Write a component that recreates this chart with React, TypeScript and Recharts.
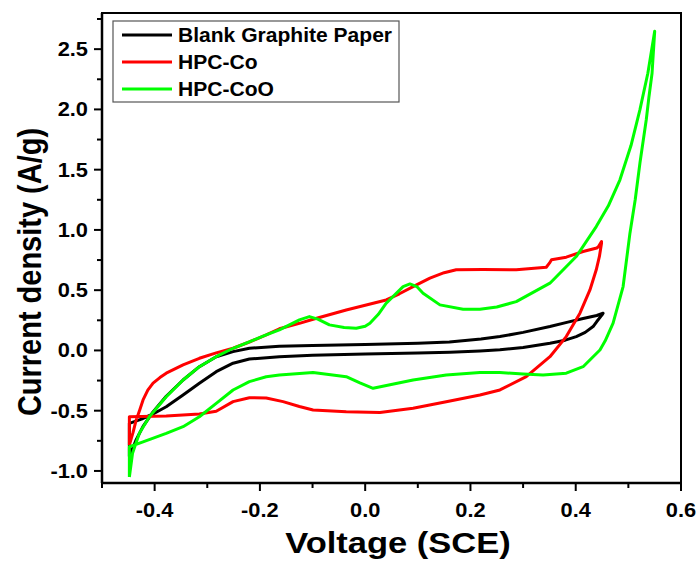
import { LineChart, Line, XAxis, YAxis, ReferenceArea } from 'recharts';

const FONT = '"Liberation Sans", Arial, sans-serif';

// Blank Graphite Paper loop (anodic branch then cathodic branch)
const blankVoltage = [-0.448, -0.435, -0.422, -0.403, -0.378, -0.346, -0.315, -0.283, -0.251, -0.22, -0.163, -0.1, 0.0, 0.1, 0.16, 0.22, 0.256, 0.3, 0.351, 0.385, 0.414, 0.44, 0.452,
  0.45, 0.44, 0.433, 0.418, 0.401, 0.38, 0.351, 0.3, 0.256, 0.218, 0.161, 0.1, 0.0, -0.1, -0.163, -0.22, -0.251, -0.283, -0.315, -0.346, -0.378, -0.403, -0.425, -0.448, -0.448];
const blankCurrent = [-0.88, -0.74, -0.63, -0.51, -0.38, -0.245, -0.135, -0.052, -0.01, 0.018, 0.035, 0.04, 0.05, 0.06, 0.07, 0.095, 0.115, 0.15, 0.198, 0.235, 0.265, 0.29, 0.309,
  0.295, 0.24, 0.198, 0.15, 0.115, 0.085, 0.06, 0.025, 0.005, -0.004, -0.015, -0.022, -0.03, -0.04, -0.052, -0.071, -0.106, -0.176, -0.272, -0.37, -0.467, -0.527, -0.57, -0.605, -0.88];

// HPC-Co loop
const coVoltage = [-0.448, -0.441, -0.435, -0.428, -0.422, -0.413, -0.403, -0.39, -0.378, -0.346, -0.315, -0.283, -0.251, -0.22, -0.188, -0.163, -0.125, -0.099, -0.036, 0.04, 0.065, 0.091, 0.123, 0.15, 0.173, 0.224, 0.287, 0.344, 0.35, 0.354, 0.382, 0.414, 0.44, 0.443, 0.449,
  0.449, 0.445, 0.439, 0.427, 0.408, 0.382, 0.351, 0.306, 0.256, 0.218, 0.154, 0.091, 0.028, -0.036, -0.099, -0.125, -0.156, -0.188, -0.22, -0.251, -0.283, -0.315, -0.378, -0.448, -0.448];
const coCurrent = [-0.785, -0.68, -0.577, -0.49, -0.411, -0.33, -0.272, -0.225, -0.189, -0.12, -0.065, -0.02, 0.018, 0.07, 0.129, 0.18, 0.225, 0.259, 0.336, 0.419, 0.47, 0.53, 0.6, 0.645, 0.669, 0.672, 0.67, 0.69, 0.724, 0.752, 0.774, 0.821, 0.85, 0.86, 0.904,
  0.89, 0.78, 0.669, 0.502, 0.309, 0.115, -0.052, -0.218, -0.328, -0.37, -0.425, -0.48, -0.515, -0.508, -0.494, -0.465, -0.425, -0.395, -0.392, -0.425, -0.505, -0.527, -0.544, -0.55, -0.785];

// HPC-CoO loop
const cooVoltage = [-0.448, -0.442, -0.429, -0.41, -0.378, -0.346, -0.315, -0.283, -0.251, -0.188, -0.163, -0.125, -0.106, -0.09, -0.068, -0.04, -0.017, 0.0, 0.009, 0.025, 0.04, 0.072, 0.085, 0.098, 0.11, 0.142, 0.186, 0.218, 0.25, 0.287, 0.351, 0.401, 0.439, 0.462, 0.484, 0.505, 0.522, 0.537, 0.55,
  0.545, 0.539, 0.534, 0.522, 0.513, 0.503, 0.49, 0.471, 0.456, 0.446, 0.414, 0.382, 0.338, 0.3, 0.256, 0.218, 0.154, 0.091, 0.015, -0.01, -0.036, -0.099, -0.163, -0.188, -0.22, -0.251, -0.283, -0.315, -0.346, -0.378, -0.422, -0.448, -0.448];
const cooCurrent = [-1.05, -0.854, -0.688, -0.55, -0.384, -0.245, -0.135, -0.052, 0.018, 0.129, 0.171, 0.253, 0.281, 0.26, 0.212, 0.19, 0.184, 0.2, 0.226, 0.3, 0.392, 0.53, 0.552, 0.53, 0.475, 0.378, 0.342, 0.342, 0.36, 0.405, 0.558, 0.779, 1.028, 1.2, 1.416, 1.7, 1.998, 2.3, 2.648,
  2.3, 2.1, 1.914, 1.555, 1.25, 0.973, 0.53, 0.226, 0.08, 0.004, -0.135, -0.189, -0.203, -0.195, -0.184, -0.184, -0.203, -0.245, -0.314, -0.27, -0.218, -0.184, -0.203, -0.218, -0.259, -0.328, -0.439, -0.55, -0.633, -0.688, -0.758, -0.799, -1.05];

const xTicks = [-0.5, -0.4, -0.3, -0.2, -0.1, 0, 0.1, 0.2, 0.3, 0.4, 0.5, 0.6];
const yTicks = [-1, -0.75, -0.5, -0.25, 0, 0.25, 0.5, 0.75, 1, 1.25, 1.5, 1.75, 2, 2.25, 2.5, 2.75];

const seriesNames = ['Blank Graphite Paper', 'HPC-Co', 'HPC-CoO'];
const seriesColors = ['#000000', '#ff0000', '#00ff00'];

const zip = (xs: number[], ys: number[]) => xs.map((v, i) => ({ voltage: v, current: ys[i] }));
const seriesData = [zip(blankVoltage, blankCurrent), zip(coVoltage, coCurrent), zip(cooVoltage, cooCurrent)];

const XTick = ({ x, y, payload }: any) => {
  const v = payload.value;
  const major = Math.abs(Math.round(v * 10)) % 2 === 0;
  return (
    <g>
      <line x1={x} x2={x} y1={y} y2={y + (major ? 8 : 5)} stroke="#000" strokeWidth={2} />
      {major && (
        <text transform={`translate(${x},${y + 34}) scale(1.12,1)`} textAnchor="middle" fontFamily={FONT} fontWeight="bold" fontSize={19.5} fill="#000">
          {v.toFixed(1)}
        </text>
      )}
    </g>
  );
};

const YTick = ({ x, y, payload }: any) => {
  const v = payload.value;
  const major = Math.abs(Math.round(v * 4)) % 2 === 0;
  return (
    <g>
      <line x1={x - (major ? 8 : 5)} x2={x} y1={y} y2={y} stroke="#000" strokeWidth={2} />
      {major && (
        <text transform={`translate(${x - 14},${y + 7}) scale(1.12,1)`} textAnchor="end" fontFamily={FONT} fontWeight="bold" fontSize={19.5} fill="#000">
          {v.toFixed(1)}
        </text>
      )}
    </g>
  );
};

const XTitle = () => (
  <text transform="translate(398,553) scale(1.15,1)" textAnchor="middle" fontFamily={FONT} fontWeight="bold" fontSize={30} fill="#000">
    Voltage (SCE)
  </text>
);

const YTitle = () => (
  <text transform="translate(29,272) scale(1.12,1) rotate(-90)" textAnchor="middle" dy="0.36em" fontFamily={FONT} fontWeight="bold" fontSize={29} fill="#000">
    Current density (A/g)
  </text>
);

function LegendBox() {
  return (
    <svg width={290} height={86} style={{ position: 'absolute', left: 111, top: 19 }}>
      <rect x={2} y={2} width={286} height={81} fill="#fff" stroke="#555" strokeWidth={1.2} />
      {seriesNames.map((name, i) => (
        <g key={name}>
          <line x1={11} x2={61} y1={16 + i * 27} y2={16 + i * 27} stroke={seriesColors[i]} strokeWidth={3} />
          <text transform={`translate(67,${23 + i * 27}) scale(1.08,1)`} fontFamily={FONT} fontWeight="bold" fontSize={19.5} fill="#000">
            {name}
          </text>
        </g>
      ))}
    </svg>
  );
}

export default function App() {
  return (
    <div style={{ position: 'absolute', left: 0, top: 0, width: 697, height: 561, background: '#fff' }}>
      <LineChart width={697} height={561} margin={{ top: 13, right: 16, left: 2, bottom: 18 }}>
        <XAxis
          dataKey="voltage"
          type="number"
          domain={[-0.5, 0.6]}
          ticks={xTicks}
          interval={0}
          allowDataOverflow
          height={60}
          tickLine={false}
          tickSize={0}
          tickMargin={0}
          axisLine={{ stroke: '#000', strokeWidth: 2.5 }}
          tick={<XTick />}
          label={{ content: <XTitle /> }}
        />
        <YAxis
          dataKey="current"
          type="number"
          domain={[-1.1, 2.8]}
          ticks={yTicks}
          interval={0}
          allowDataOverflow
          width={100}
          tickLine={false}
          tickSize={0}
          tickMargin={0}
          axisLine={{ stroke: '#000', strokeWidth: 2.5 }}
          tick={<YTick />}
          label={{ content: <YTitle /> }}
        />
        <ReferenceArea x1={-0.5} x2={0.6} y1={-1.1} y2={2.8} fill="none" stroke="#000" strokeWidth={2} ifOverflow="visible" />
        {seriesData.map((d, i) => (
          <Line
            key={seriesNames[i]}
            data={d}
            dataKey="current"
            name={seriesNames[i]}
            type="linear"
            stroke={seriesColors[i]}
            strokeWidth={3}
            strokeLinejoin="round"
            dot={false}
            activeDot={false}
            isAnimationActive={false}
          />
        ))}
      </LineChart>
      <LegendBox />
    </div>
  );
}
